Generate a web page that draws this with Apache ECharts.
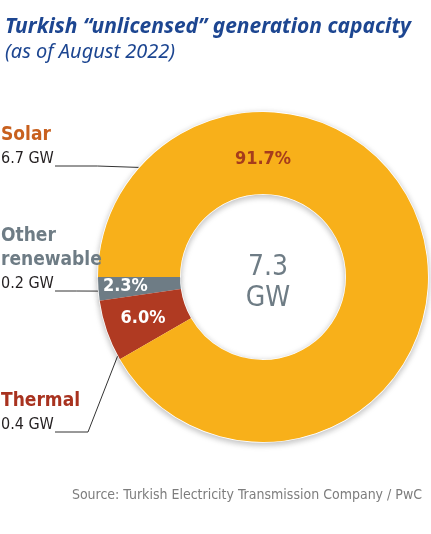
<!DOCTYPE html>
<html>
<head>
<meta charset="utf-8">
<script src="https://cdn.jsdelivr.net/npm/echarts@6/dist/echarts.min.js"></script>
<style>
  html, body { margin: 0; padding: 0; background: #fff; }
  #chart { width: 431px; height: 534px; }
</style>
</head>
<body>
<div id="chart"></div>
<script>
// data (pie order: counter-clockwise from 9 o'clock)
var categories = ['Other renewable', 'Thermal', 'Solar'];
var nameLines = [['Other', 'renewable'], ['Thermal'], ['Solar']];
var capacityGW = [0.2, 0.4, 6.7];
var sharePct = [2.3, 6.0, 91.7];
var totalGW = 7.3;

var sliceColors = ['#6e7c85', '#b03a22', '#f8b01a'];
var nameColors = ['#6e7c85', '#a8321f', '#c8601e'];
var narrow = '"Liberation Sans Narrow", "DejaVu Sans Condensed", sans-serif';

var cx = 263, cy = 277, rIn = 83, rOut = 165;
// where each callout line touches the ring (degrees), and label line y
var calloutAngle = [184.9, 208.4, 138.4];
var calloutY = [291, 432, 166];

function ringPoint(deg, r) {
  var a = deg * Math.PI / 180;
  return [cx + r * Math.cos(a), cy - r * Math.sin(a)];
}

var pieData = categories.map(function (c, i) {
  return { name: c, value: sharePct[i], itemStyle: { color: sliceColors[i] } };
});

var chart = echarts.init(document.getElementById('chart'));
chart.setOption({
  animation: false,
  title: [
    {
      text: 'Turkish \u201cunlicensed\u201d generation capacity',
      subtext: '(as of August 2022)',
      left: 0, top: 12, itemGap: 4,
      textStyle: { fontFamily: 'Noto Sans', fontStyle: 'italic', fontWeight: 'bold', fontSize: 21, color: '#1d4691' },
      subtextStyle: { fontFamily: 'Noto Sans', fontStyle: 'italic', fontSize: 20, color: '#1d4691' }
    },
    {
      text: totalGW + '\nGW',
      left: cx, top: 247, textAlign: 'center',
      textStyle: { fontFamily: narrow, fontSize: 28, fontWeight: 'normal', color: '#6e7c85', lineHeight: 31 }
    },
    {
      text: 'Source: Turkish Electricity Transmission Company / PwC',
      right: 4, top: 483,
      textStyle: { fontFamily: narrow, fontSize: 14, fontWeight: 'normal', color: '#7d7d7d' }
    }
  ],
  series: [
    {
      type: 'pie',
      center: [cx, cy],
      radius: [rIn, rOut],
      startAngle: 180,
      clockwise: false,
      silent: true,
      itemStyle: {
        borderColor: '#fff', borderWidth: 1.5,
        shadowBlur: 6, shadowColor: 'rgba(0,0,0,0.25)', shadowOffsetY: 2
      },
      label: {
        position: 'inside',
        formatter: function (p) { return p.value.toFixed(1) + '%'; },
        fontFamily: narrow, fontWeight: 'bold', fontSize: 18, color: '#fff'
      },
      labelLayout: function (p) {
        if (p.dataIndex === 2) {
          var pt = ringPoint(90, 118);
          return { x: pt[0], y: pt[1], align: 'center', verticalAlign: 'middle' };
        }
        if (p.dataIndex === 0) {
          var q = ringPoint(184, 138);
          return { x: q[0], y: q[1], align: 'center', verticalAlign: 'middle' };
        }
        return {};
      },
      data: pieData.map(function (d, i) {
        var o = Object.assign({}, d);
        if (i === 2) o.label = { color: '#a63c1c' };
        return o;
      })
    },
    {
      type: 'pie',
      center: [cx, cy],
      radius: [rIn, rOut],
      startAngle: 180,
      clockwise: false,
      silent: true,
      avoidLabelOverlap: false,
      itemStyle: { color: 'rgba(0,0,0,0)' },
      label: {
        position: 'outside',
        overflow: 'none',
        formatter: function (p) {
          var i = p.dataIndex;
          var lines = nameLines[i].map(function (s) { return '{n' + i + '|' + s + '}'; });
          lines.push('{v|' + capacityGW[i].toFixed(1) + ' GW}');
          return lines.join('\n');
        },
        rich: {
          n0: { fontFamily: narrow, fontWeight: 'bold', fontSize: 19, color: nameColors[0], lineHeight: 24 },
          n1: { fontFamily: narrow, fontWeight: 'bold', fontSize: 19, color: nameColors[1], lineHeight: 24 },
          n2: { fontFamily: narrow, fontWeight: 'bold', fontSize: 19, color: nameColors[2], lineHeight: 24 },
          v: { fontFamily: narrow, fontSize: 16, color: '#231f20', lineHeight: 24 }
        }
      },
      labelLine: { show: true, lineStyle: { color: '#333', width: 1 } },
      labelLayout: function (p) {
        var i = p.dataIndex;
        var y = calloutY[i];
        var a = ringPoint(calloutAngle[i], rOut);
        var pts = i === 1
          ? [a, [88, y], [55, y]]
          : [a, [(a[0] + 55) / 2, y], [55, y]];
        return { x: 1, y: y + 5, align: 'left', verticalAlign: 'bottom', width: 120, labelLinePoints: pts };
      },
      data: pieData
    }
  ]
});
</script>
</body>
</html>
